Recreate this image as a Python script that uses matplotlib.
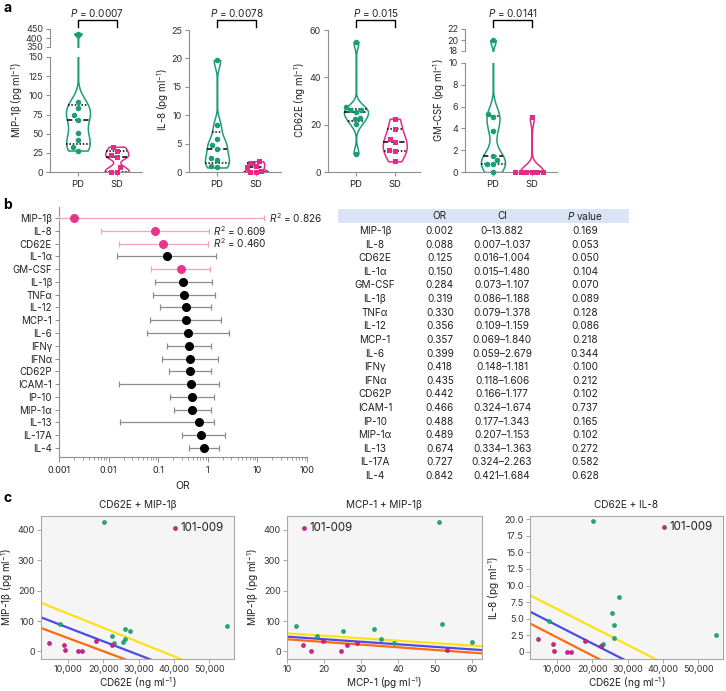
import numpy as np
import matplotlib
matplotlib.use('Agg')
import matplotlib.pyplot as plt
from matplotlib.transforms import blended_transform_factory
from matplotlib.ticker import FuncFormatter, LogLocator, NullFormatter

plt.rcParams['font.family'] = ['Inter', 'DejaVu Sans']
plt.rcParams['mathtext.fontset'] = 'custom'
plt.rcParams['mathtext.rm'] = 'Inter'
plt.rcParams['mathtext.it'] = 'Inter:italic'
plt.rcParams['mathtext.bf'] = 'Inter:bold'

# ---------------- data ----------------
# per-patient values (PD n=9, SD n=7)
pd_cd62e = [20.2, 7.8, 55.0, 26.0, 27.5, 22.5, 26.0, 25.5, 23.0]      # ng/ml
pd_mip1b = [425, 91, 83, 74, 68, 51, 42, 32, 28]                      # pg/ml
pd_il8 = [19.7, 4.7, 2.5, 4.1, 8.2, 0.8, 2.1, 5.8, 1.1]               # pg/ml
pd_mcp1 = [51.0, 52.0, 12.4, 33.5, 25.0, 18.0, 35.3, 60.0, 38.8]      # pg/ml
pd_gmcsf = [20.0, 5.3, 5.0, 3.75, 1.5, 1.1, 0.75, 0.75, 0.0]          # pg/ml

sd_cd62e = [4.5, 8.8, 9.2, 12.8, 13.8, 18.0, 22.5]
sd_mip1b = [28, 20, 6, 0, 0, 33, 22]
sd_il8 = [1.9, 1.1, 0.1, 0.0, 0.0, 1.6, 0.8]
sd_mcp1 = [28.9, 14.3, 53.3, 16.4, 24.6, 19.6, 26.2]
sd_gmcsf = [5.0, 0, 0, 0, 0, 0, 0]

# highlighted patient 101-009 (panel c)
hl_id = '101-009'
hl_cd62e = 40.3
hl_mip1b = 408
hl_il8 = 18.8
hl_mcp1 = 14.5

p_values_a = ['0.0007', '0.0078', '0.015', '0.0141']

# panel b
cytokines = ['MIP-1β', 'IL-8', 'CD62E', 'IL-1α', 'GM-CSF', 'IL-1β', 'TNFα', 'IL-12', 'MCP-1',
             'IL-6', 'IFNγ', 'IFNα', 'CD62P', 'ICAM-1', 'IP-10', 'MIP-1α', 'IL-13', 'IL-17A', 'IL-4']
or_vals = [0.002, 0.088, 0.125, 0.150, 0.284, 0.319, 0.330, 0.356, 0.357, 0.399, 0.418, 0.435,
           0.442, 0.466, 0.488, 0.489, 0.674, 0.727, 0.842]
ci_low = [0, 0.007, 0.016, 0.015, 0.073, 0.086, 0.079, 0.109, 0.069, 0.059, 0.148, 0.118,
          0.166, 0.324, 0.177, 0.207, 0.334, 0.324, 0.421]
ci_high = [13.882, 1.037, 1.004, 1.480, 1.107, 1.188, 1.378, 1.159, 1.840, 2.679, 1.181, 1.606,
           1.177, 1.674, 1.343, 1.153, 1.363, 2.263, 1.684]
# lower whisker ends as drawn in the forest plot
ci_low_drawn = [0, 0.007, 0.016, 0.015, 0.073, 0.086, 0.079, 0.109, 0.069, 0.059, 0.148, 0.118,
                0.166, 0.016, 0.177, 0.207, 0.017, 0.30, 0.421]
p_vals = ['0.169', '0.053', '0.050', '0.104', '0.070', '0.089', '0.128', '0.086', '0.218', '0.344',
          '0.100', '0.212', '0.102', '0.737', '0.165', '0.102', '0.272', '0.582', '0.628']
highlighted = ['MIP-1β', 'IL-8', 'CD62E', 'GM-CSF']
r2_labels = {'MIP-1β': '0.826', 'IL-8': '0.609', 'CD62E': '0.460'}

# panel c boundary lines (intercept, slope) : yellow, blue, orange
c1_intercepts = [171.0, 122.5, 87.0]
c1_slopes = [-4.68e-3, -4.47e-3, -4.33e-3]
c2_intercepts = [67.6, 57.0, 48.8]
c2_slopes = [-0.806, -0.84, -0.88]
c3_intercepts = [9.16, 6.68, 4.90]
c3_slopes = [-2.716e-4, -2.72e-4, -2.75e-4]
line_colors = ['#ffe11a', '#4b4ce6', '#ff6a13']

# ---------------- figure ----------------
W, H = 726, 691
fig = plt.figure(figsize=(W / 100, H / 100), dpi=100)


def px_axes(l, t, r, b):
    return fig.add_axes([l / W, 1 - b / H, (r - l) / W, (b - t) / H])


GREEN = '#1b9e77'
PINK = '#e7298a'
SPINE = '#8f8f8f'
TXT = '#222222'


def swarm(vals, ypx, xpx=39.0, diam=5.5):
    v = np.asarray(vals, float)
    offs = np.zeros(len(v))
    placed = []
    base = np.arange(0, 30, 0.5)
    cands = sorted(np.concatenate([base, -base[1:]]), key=lambda c: (abs(c), c))
    for i in np.argsort(v, kind='stable'):
        y = v[i] * ypx
        chosen = cands[-1]
        for c in cands:
            if all((c - px) ** 2 + (y - py) ** 2 >= diam ** 2 for px, py in placed):
                chosen = c
                break
        placed.append((chosen, y))
        offs[i] = chosen / xpx
    return offs


def violin(axes, pos, vals, color, bw):
    v = np.asarray(vals, float)
    grid = np.linspace(v.min(), v.max(), 500)
    dens = np.exp(-0.5 * ((grid[:, None] - v[None, :]) / bw) ** 2).sum(1)
    hw = 0.31 * dens / dens.max()
    for ax in axes:
        ax.fill_betweenx(grid, pos - hw, pos + hw, facecolor='white', edgecolor=color,
                         lw=1.1, zorder=2)
    qs = np.percentile(v, [25, 50, 75], method='weibull')
    for ax in axes:
        y0, y1 = ax.get_ylim()
        for q, ls in zip(qs, [(0, (1, 1.2)), (0, (3.5, 1.8)), (0, (1, 1.2))]):
            if y0 <= q <= y1:
                w = np.interp(q, grid, hw)
                ax.plot([pos - w, pos + w], [q, q], color='black', ls=ls, lw=1.1, zorder=3)


def style_a(ax, bottom=True):
    for s in ['top', 'right']:
        ax.spines[s].set_visible(False)
    ax.spines['left'].set_color(SPINE)
    ax.spines['left'].set_linewidth(0.8)
    if bottom:
        ax.spines['bottom'].set_color(SPINE)
        ax.spines['bottom'].set_linewidth(0.8)
        ax.set_xticks([0, 1])
        ax.set_xticklabels(['PD', 'SD'])
        ax.tick_params(axis='x', length=3, width=0.8, color=SPINE, labelsize=6.8,
                       labelcolor=TXT, pad=3)
    else:
        ax.spines['bottom'].set_visible(False)
        ax.tick_params(axis='x', bottom=False, labelbottom=False)
    ax.tick_params(axis='y', length=3, width=0.8, color=SPINE, labelsize=6.5,
                   labelcolor='#333333', pad=2)
    ax.patch.set_alpha(0)
    ax.set_xlim(-0.72, 1.65)


a_specs = [
    dict(label='MIP-1β (pg ml$^{-1}$)', pd=pd_mip1b, sd=sd_mip1b, left=50,
         low=(57, 172, 0, 150, [0, 25, 50, 75, 100, 125, 150]),
         up=(29, 47, 350, 450, [350, 400, 450]), bw=(12, 4.5), lx=17),
    dict(label='IL-8 (pg ml$^{-1}$)', pd=pd_il8, sd=sd_il8, left=189,
         low=(30, 172, 0, 25, [0, 5, 10, 15, 20, 25]), up=None, bw=(1.3, 0.35), lx=163),
    dict(label='CD62E (ng ml$^{-1}$)', pd=pd_cd62e, sd=sd_cd62e, left=328,
         low=(30, 172, 0, 60, [0, 20, 40, 60]), up=None, bw=(2.5, 3.5), lx=300),
    dict(label='GM-CSF (pg ml$^{-1}$)', pd=pd_gmcsf, sd=sd_gmcsf, left=465,
         low=(63, 172, 0, 10, [0, 2, 4, 6, 8, 10]),
         up=(29, 51, 18, 22, [18, 20, 22]), bw=(0.9, 0.6), lx=439),
]

for spec, pstr in zip(a_specs, p_values_a):
    l = spec['left']
    r = l + 92
    lt, lb, y0, y1, ticks = spec['low']
    axl = px_axes(l, lt, r, lb)
    axl.set_ylim(y0, y1)
    axl.set_yticks(ticks)
    style_a(axl, True)
    axes = [axl]
    ypx = (lb - lt) / (y1 - y0)
    if spec['up'] is not None:
        ut, ub, u0, u1, uticks = spec['up']
        axu = px_axes(l, ut, r, ub)
        axu.set_ylim(u0, u1)
        axu.set_yticks(uticks)
        style_a(axu, False)
        axes.append(axu)
    for pos, vals, color, mk, ms, bw in [(0, spec['pd'], GREEN, 'o', 4.0, spec['bw'][0]),
                                         (1, spec['sd'], PINK, 's', 3.6, spec['bw'][1])]:
        violin(axes, pos, vals, color, bw)
        v = np.asarray(vals, float)
        offs = swarm(v, ypx)
        for ax in axes:
            a0, a1 = ax.get_ylim()
            m = (v >= a0) & (v <= a1)
            ax.plot(pos + offs[m], v[m], mk, color=color, ms=ms, mew=0, zorder=4, clip_on=False)
    top_ax = axes[-1]
    tr = blended_transform_factory(top_ax.transData, fig.transFigure)
    top_ax.plot([0, 0, 1, 1], [1 - 27 / H, 1 - 20 / H, 1 - 20 / H, 1 - 27 / H], color='black',
                lw=1.0, transform=tr, clip_on=False)
    top_ax.text(0.5, 1 - 13 / H, r'$\it{P}$ = ' + pstr, transform=tr, ha='center', va='center',
                fontsize=7.2, color=TXT)
    fig.text(spec['lx'] / W, 1 - 100 / H, spec['label'], rotation=90, ha='center', va='center',
             fontsize=7, color=TXT)

fig.text(3 / W, 1 - 8 / H, 'a', fontsize=10, fontweight='bold', va='center')
fig.text(3 / W, 1 - 205 / H, 'b', fontsize=10, fontweight='bold', va='center')
fig.text(3 / W, 1 - 498 / H, 'c', fontsize=10, fontweight='bold', va='center')

# ---------------- panel b: forest ----------------
axf = px_axes(59, 207, 307, 457)
axf.set_xscale('log')
axf.set_xlim(1e-3, 100)
n = len(cytokines)
axf.set_ylim(n - 1 + 0.70, -0.86)
for i, (name, o, lo, hi) in enumerate(zip(cytokines, or_vals, ci_low_drawn, ci_high)):
    hl = name in highlighted
    lo_c = max(lo, 1e-3)
    axf.errorbar([o], [i], xerr=[[o - lo_c], [hi - o]], fmt='o', ms=5.5,
                 mfc='#e8378b' if hl else 'black', mec='#e8378b' if hl else 'black',
                 ecolor='#f3a2c4' if hl else '#8c8c8c', elinewidth=0.9, capsize=2.5,
                 capthick=0.9, zorder=3, clip_on=False)
    if name in r2_labels:
        axf.annotate(r'$\it{R}^{2}$ = ' + r2_labels[name], (hi, i), xytext=(3.5, 0),
                     textcoords='offset points', va='center', ha='left', fontsize=7.2, color=TXT,
                     annotation_clip=False)
axf.set_yticks(range(n))
axf.set_yticklabels(cytokines)
axf.xaxis.set_major_locator(LogLocator(base=10, numticks=10))
axf.xaxis.set_minor_locator(LogLocator(base=10, subs=np.arange(2, 10), numticks=20))
axf.xaxis.set_minor_formatter(NullFormatter())
axf.xaxis.set_major_formatter(FuncFormatter(lambda v, p: f'{v:g}'))
for s in ['top', 'right']:
    axf.spines[s].set_visible(False)
for s in ['left', 'bottom']:
    axf.spines[s].set_color(SPINE)
    axf.spines[s].set_linewidth(0.8)
axf.tick_params(axis='y', length=3, width=0.7, color=SPINE, labelsize=7, labelcolor=TXT, pad=2)
axf.tick_params(axis='x', which='major', length=3.5, width=0.7, color=SPINE, labelsize=6.5,
                labelcolor=TXT, pad=3)
axf.tick_params(axis='x', which='minor', length=2, width=0.6, color=SPINE)
axf.set_xlabel('OR', fontsize=7.5, color=TXT, labelpad=4)
axf.patch.set_alpha(0)

# ---------------- panel b: table ----------------
axt = px_axes(338, 209, 629, 485)
axt.axis('off')
axt.set_xlim(0, 1)
axt.set_ylim(18.66, -1.62)
axt.axhspan(-1.62, -0.59, color='#dbe4f4', lw=0)
col_x = [0.127, 0.35, 0.564, 0.849]
headers = ['', 'OR', 'CI', r'$\it{P}$ value']
for x, h in zip(col_x, headers):
    axt.text(x, -1.08, h, ha='center', va='center', fontsize=7.2, color=TXT)
for i, (name, o, lo, hi, p) in enumerate(zip(cytokines, or_vals, ci_low, ci_high, p_vals)):
    lo_s = '0' if lo == 0 else f'{lo:.3f}'
    row = [name, f'{o:.3f}', f'{lo_s}–{hi:.3f}', p]
    for x, s in zip(col_x, row):
        axt.text(x, i, s, ha='center', va='center', fontsize=7.2, color=TXT)

# ---------------- panel c ----------------
MAG = '#d0218b'
CGREEN = '#22a87a'


def c_panel(ax, x_pd, y_pd, x_sd, y_sd, x_hl, y_hl, xlim, ylim, yticks, xticks,
            intercepts, slopes, title, xlabel, ylabel, xfmt, yfmt):
    ax.set_facecolor('#f5f5f5')
    for s in ax.spines.values():
        s.set_color('#a8a8a8')
        s.set_linewidth(0.8)
    ax.set_xlim(*xlim)
    ax.set_ylim(*ylim)
    xs = np.array(xlim, float)
    for a, b, c in zip(intercepts, slopes, line_colors):
        ax.plot(xs, a + b * xs, color=c, lw=1.6, zorder=2)
    ax.scatter(x_pd, y_pd, s=9, color=CGREEN, edgecolor='#15805c', linewidth=0.3, zorder=3)
    ax.scatter(x_sd, y_sd, s=9, color=MAG, edgecolor='#8e1463', linewidth=0.3, zorder=3)
    ax.scatter([x_hl], [y_hl], s=9, color=MAG, edgecolor='#8e1463', linewidth=0.3, zorder=3)
    ax.annotate(hl_id, (x_hl, y_hl), xytext=(4, 0), textcoords='offset points', va='center',
                ha='left', fontsize=8.3, color=TXT)
    ax.set_xticks(xticks)
    ax.set_yticks(yticks)
    ax.xaxis.set_major_formatter(FuncFormatter(xfmt))
    ax.yaxis.set_major_formatter(FuncFormatter(yfmt))
    ax.tick_params(length=3, width=0.7, color='#a8a8a8', labelsize=6.5, labelcolor='#333333',
                   pad=1.5)
    ax.set_title(title, fontsize=7.2, color=TXT, pad=6)
    ax.set_xlabel(xlabel, fontsize=7.2, color=TXT, labelpad=0.5)
    ax.set_ylabel(ylabel, fontsize=7.2, color=TXT, labelpad=2)


comma = lambda v, p: f'{int(v):,}'
intfmt = lambda v, p: f'{int(v)}'
dec1 = lambda v, p: '0' if v == 0 else f'{v:.1f}'

pd_cd62e_c = np.array(pd_cd62e) * 1000
sd_cd62e_c = np.array(sd_cd62e) * 1000
hl_cd62e_c = hl_cd62e * 1000

c1 = px_axes(41, 516, 234, 659)
c_panel(c1, pd_cd62e_c, pd_mip1b, sd_cd62e_c, sd_mip1b, hl_cd62e_c, hl_mip1b,
        (2300, 57000), (-25, 446), [0, 100, 200, 300, 400], [10000, 20000, 30000, 40000, 50000],
        c1_intercepts, c1_slopes, 'CD62E + MIP-1β', 'CD62E (ng ml$^{-1}$)', 'MIP-1β (pg ml$^{-1}$)',
        comma, intfmt)

c2 = px_axes(287, 516, 482, 659)
c_panel(c2, pd_mcp1, pd_mip1b, sd_mcp1, sd_mip1b, hl_mcp1, hl_mip1b,
        (10, 62.7), (-25, 446), [0, 100, 200, 300, 400], [10, 20, 30, 40, 50, 60],
        c2_intercepts, c2_slopes, 'MCP-1 + MIP-1β', 'MCP-1 (pg ml$^{-1}$)', 'MIP-1β (pg ml$^{-1}$)',
        intfmt, intfmt)

c3 = px_axes(530, 516, 723, 659)
c_panel(c3, pd_cd62e_c, pd_il8, sd_cd62e_c, sd_il8, hl_cd62e_c, hl_il8,
        (2300, 57000), (-1.1, 20.5), [0, 2.5, 5, 7.5, 10, 12.5, 15, 17.5, 20],
        [10000, 20000, 30000, 40000, 50000],
        c3_intercepts, c3_slopes, 'CD62E + IL-8', 'CD62E (ng ml$^{-1}$)', 'IL-8 (pg ml$^{-1}$)',
        comma, dec1)

fig.savefig('out.png', dpi=100)
